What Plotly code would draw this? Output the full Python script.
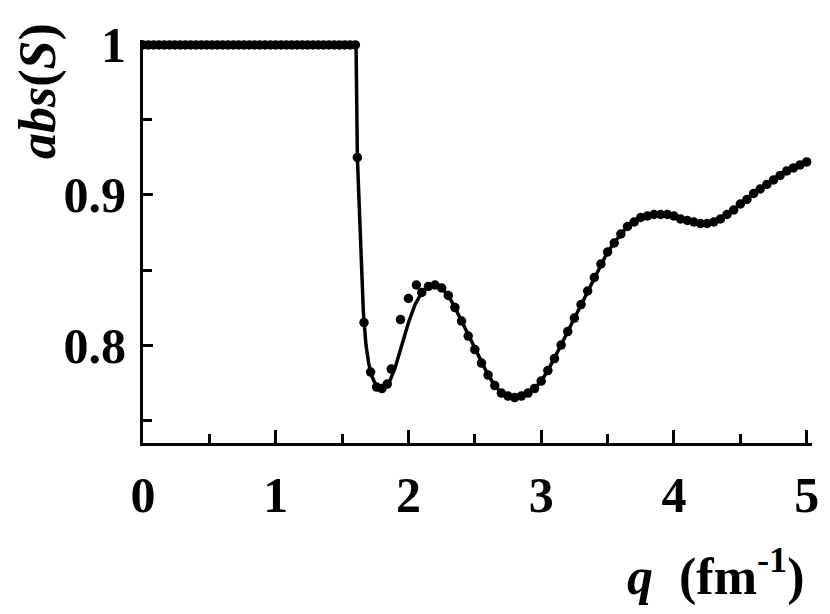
import plotly.graph_objects as go

# ---- data ----
# solid curve
line_q = [0.00, 1.605, 1.615, 1.64, 1.66, 1.68, 1.70, 1.72, 1.75, 1.78,
          1.80, 1.85, 1.90, 1.95, 2.00, 2.05, 2.10, 2.15, 2.20, 2.25,
          2.30, 2.35, 2.40, 2.45, 2.50, 2.55, 2.60, 2.65, 2.70, 2.75,
          2.80, 2.85, 2.90, 2.95, 3.00, 3.05, 3.10, 3.15, 3.20, 3.25,
          3.30, 3.35, 3.40, 3.45, 3.50, 3.55, 3.60, 3.65, 3.70, 3.75,
          3.80, 3.85, 3.90, 3.95, 4.00, 4.05, 4.10, 4.15, 4.20, 4.25,
          4.30, 4.35, 4.40, 4.45, 4.50, 4.55, 4.60, 4.65, 4.70, 4.75,
          4.80, 4.85, 4.90, 4.95, 5.00]
line_s = [1.000, 1.000, 0.925, 0.865, 0.822, 0.800, 0.788, 0.780, 0.774, 0.771,
          0.771, 0.774, 0.785, 0.800, 0.815, 0.827, 0.835, 0.839, 0.840, 0.838,
          0.833, 0.825, 0.816, 0.806, 0.797, 0.788, 0.780, 0.773, 0.768, 0.766,
          0.765, 0.766, 0.768, 0.771, 0.776, 0.783, 0.791, 0.800, 0.809, 0.818,
          0.827, 0.836, 0.845, 0.854, 0.862, 0.868, 0.874, 0.879, 0.882, 0.885,
          0.886, 0.887, 0.887, 0.887, 0.886, 0.884, 0.883, 0.882, 0.881, 0.881,
          0.882, 0.884, 0.887, 0.890, 0.894, 0.897, 0.901, 0.904, 0.907, 0.910,
          0.913, 0.916, 0.918, 0.920, 0.922]

# dots: flat part
flat_q = [0.00, 0.04, 0.08, 0.12, 0.16, 0.20, 0.24, 0.28, 0.32, 0.36,
          0.40, 0.44, 0.48, 0.52, 0.56, 0.60, 0.64, 0.68, 0.72, 0.76,
          0.80, 0.84, 0.88, 0.92, 0.96, 1.00, 1.04, 1.08, 1.12, 1.16,
          1.20, 1.24, 1.28, 1.32, 1.36, 1.40, 1.44, 1.48, 1.52, 1.56, 1.60]
flat_s = [1.0] * len(flat_q)

# dots: drop and first minimum, including the off-curve points near q = 2
drop_q = [1.615, 1.665, 1.715, 1.76, 1.80, 1.84, 1.87, 1.94, 2.00, 2.06]
drop_s = [0.925, 0.815, 0.782, 0.772, 0.771, 0.774, 0.784, 0.817, 0.831, 0.840]

# dots: rest of the curve
rest_q = [2.10, 2.15, 2.20, 2.25, 2.30, 2.35, 2.40, 2.45, 2.50, 2.55,
          2.60, 2.65, 2.70, 2.75, 2.80, 2.85, 2.90, 2.95, 3.00, 3.05,
          3.10, 3.15, 3.20, 3.25, 3.30, 3.35, 3.40, 3.45, 3.50, 3.55,
          3.60, 3.65, 3.70, 3.75, 3.80, 3.85, 3.90, 3.95, 4.00, 4.05,
          4.10, 4.15, 4.20, 4.25, 4.30, 4.35, 4.40, 4.45, 4.50, 4.55,
          4.60, 4.65, 4.70, 4.75, 4.80, 4.85, 4.90, 4.95, 5.00]
rest_s = [0.835, 0.839, 0.840, 0.838, 0.833, 0.825, 0.816, 0.806, 0.797, 0.788,
          0.780, 0.773, 0.768, 0.766, 0.765, 0.766, 0.768, 0.771, 0.776, 0.783,
          0.791, 0.800, 0.809, 0.818, 0.827, 0.836, 0.845, 0.854, 0.862, 0.868,
          0.874, 0.879, 0.882, 0.885, 0.886, 0.887, 0.887, 0.887, 0.886, 0.884,
          0.883, 0.882, 0.881, 0.881, 0.882, 0.884, 0.887, 0.890, 0.894, 0.897,
          0.901, 0.904, 0.907, 0.910, 0.913, 0.916, 0.918, 0.920, 0.922]

x_ticks = [0, 1, 2, 3, 4, 5]
x_labels = ["0", "1", "2", "3", "4", "5"]
y_ticks = [0.8, 0.9, 1.0]
y_labels = ["0.8", "0.9", "1"]

FONT = "Liberation Serif"

fig = go.Figure()
fig.add_trace(go.Scatter(x=line_q, y=line_s, mode="lines",
                         line=dict(color="black", width=3.5), showlegend=False,
                         hoverinfo="skip"))
fig.add_trace(go.Scatter(x=flat_q + drop_q + rest_q, y=flat_s + drop_s + rest_s,
                         mode="markers",
                         marker=dict(color="black", size=9.5, line=dict(width=0)),
                         showlegend=False))

axis_common = dict(showline=True, linecolor="black", linewidth=3, mirror=False,
                   showgrid=False, zeroline=False, ticks="inside",
                   tickcolor="black", tickwidth=3, automargin=False,
                   tickfont=dict(family=FONT, size=50, color="black"))

fig.update_xaxes(range=[0, 5.04], tickvals=x_ticks,
                 ticktext=["<b>%s</b>" % t for t in x_labels],
                 ticklen=13, ticklabelstandoff=6,
                 minor=dict(dtick=0.5, tick0=0, ticks="inside", ticklen=9,
                            tickwidth=3, tickcolor="black"),
                 **axis_common)
fig.update_yaxes(range=[0.7347, 1.0033], tickvals=y_ticks,
                 ticktext=["<b>%s</b>" % t for t in y_labels],
                 ticklen=10, ticklabelstandoff=4,
                 minor=dict(dtick=0.05, tick0=0, ticks="inside", ticklen=9,
                            tickwidth=3, tickcolor="black"),
                 **axis_common)

# the page body adds an 8 px offset, so the figure is drawn 8 px smaller
fig.update_layout(
    width=822, height=606,
    margin=dict(l=135, r=18, t=32, b=171, autoexpand=False),
    paper_bgcolor="white", plot_bgcolor="white",
    annotations=[
        dict(text="<b><i>abs</i>(<i>S</i>)</b>", xref="paper", yref="paper",
             x=-0.158, y=0.874, textangle=-90, showarrow=False,
             xanchor="center", yanchor="middle",
             font=dict(family=FONT, size=52, color="black")),
        dict(text="<b><i>q</i>\u00a0\u00a0(fm<sup>-1</sup>)</b>", xref="paper",
             yref="paper", x=0.992, y=-0.322, showarrow=False,
             xanchor="right", yanchor="middle",
             font=dict(family=FONT, size=52, color="black")),
    ],
)

fig.write_html("out.html")
